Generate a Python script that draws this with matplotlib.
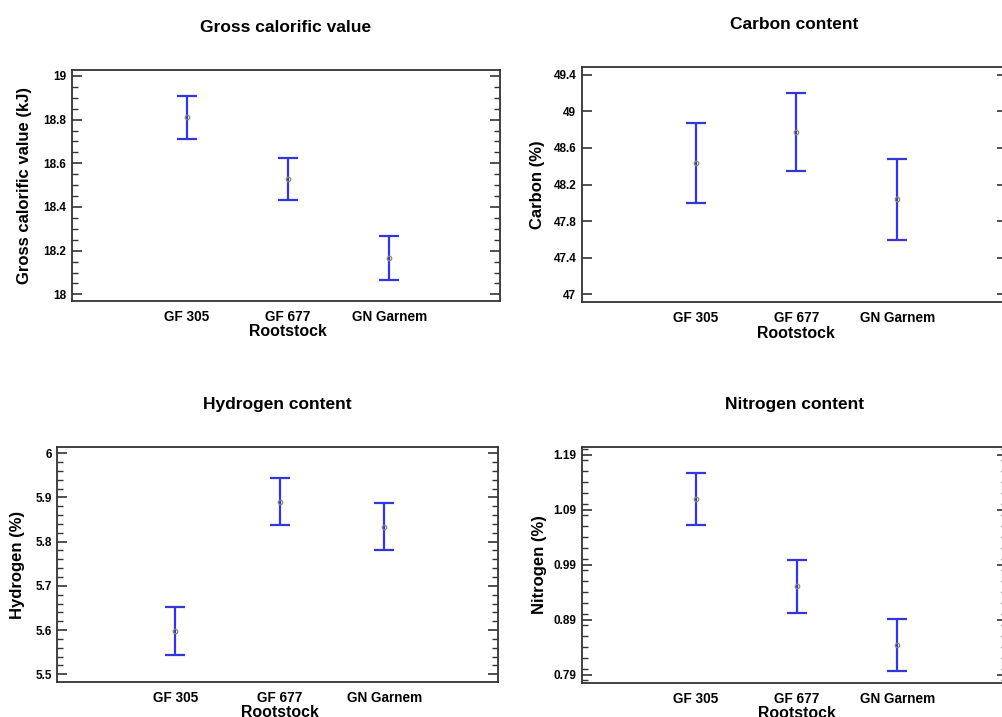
import matplotlib
matplotlib.use("Agg")
import matplotlib.pyplot as plt
from matplotlib.ticker import FixedLocator, MultipleLocator, FuncFormatter

plt.rcParams['font.family'] = ['Liberation Sans', 'DejaVu Sans']

# data (means and interval half-widths)
rootstocks = ['GF 305', 'GF 677', 'GN Garnem']
positions = [1, 2, 3]

gcv_mean = [18.81, 18.527, 18.166]
gcv_err = [0.098, 0.096, 0.100]

carbon_mean = [48.435, 48.774, 48.038]
carbon_err = [0.44, 0.43, 0.44]

hydrogen_mean = [5.598, 5.890, 5.834]
hydrogen_err = [0.054, 0.053, 0.054]

nitrogen_mean = [1.109, 0.951, 0.844]
nitrogen_err = [0.047, 0.048, 0.048]

W, H = 1003, 717
fig = plt.figure(figsize=(W / 100, H / 100), dpi=100)

# axes boxes in pixels: left, top, right, bottom
boxes = [
    (72, 70, 500, 300.7),
    (581.7, 67.3, 1007, 302.3),
    (57.3, 447.3, 498, 681.7),
    (582.3, 447.3, 1007, 682.7),
]

panels = [
    dict(title="Gross calorific value", ylabel="Gross calorific value (kJ)",
         mean=gcv_mean, err=gcv_err, ylim=(17.971, 19.027),
         major=[18, 18.2, 18.4, 18.6, 18.8, 19], minor=0.05, ylab_off=47),
    dict(title="Carbon content", ylabel="Carbon (%)",
         mean=carbon_mean, err=carbon_err, ylim=(46.913, 49.481),
         major=[47, 47.4, 47.8, 48.2, 48.6, 49, 49.4], minor=None, ylab_off=44),
    dict(title="Hydrogen content", ylabel="Hydrogen (%)",
         mean=hydrogen_mean, err=hydrogen_err, ylim=(5.483, 6.0136),
         major=[5.5, 5.6, 5.7, 5.8, 5.9, 6.0], minor=0.02, ylab_off=40),
    dict(title="Nitrogen content", ylabel="Nitrogen (%)",
         mean=nitrogen_mean, err=nitrogen_err, ylim=(0.7755, 1.2035),
         major=[0.79, 0.89, 0.99, 1.09, 1.19], minor=0.02, ylab_off=43),
]

xlim = (-0.13, 4.09)

for (l, t, r, b), p in zip(boxes, panels):
    ax = fig.add_axes([l / W, 1 - b / H, (r - l) / W, (b - t) / H])
    wpx, hpx = r - l, b - t

    ax.errorbar(positions, p["mean"], yerr=p["err"], fmt='none',
                ecolor='#3535dc', elinewidth=1.6, capsize=7.2, capthick=1.6)
    ax.plot(positions, p["mean"], 'o', ms=3.2, mfc='none', mec='#8c8a6c', mew=0.9)

    ax.set_xlim(*xlim)
    ax.set_ylim(*p["ylim"])
    ax.set_xticks(positions)
    ax.set_xticklabels(rootstocks, fontsize=9.8, fontweight='bold')
    ax.yaxis.set_major_locator(FixedLocator(p["major"]))
    ax.yaxis.set_major_formatter(FuncFormatter(lambda v, pos: '%g' % round(v, 3)))
    if p["minor"]:
        ax.yaxis.set_minor_locator(MultipleLocator(p["minor"]))
    for lab in ax.get_yticklabels():
        lab.set_fontweight('bold')
        lab.set_fontsize(8.5)

    ax.tick_params(axis='y', which='both', direction='in', left=True, right=True, pad=4)
    ax.tick_params(axis='y', which='major', length=7, width=1.2, color='#333333')
    ax.tick_params(axis='y', which='minor', length=4, width=1.0, color='#333333')
    ax.tick_params(axis='x', length=0, pad=6.5)

    for s in ax.spines.values():
        s.set_color('#333333')
        s.set_linewidth(1.3)

    # axis title sits under the middle category
    ax.set_xlabel("Rootstock", fontsize=11.4, fontweight='bold', va='center')
    ax.xaxis.set_label_coords((2 - xlim[0]) / (xlim[1] - xlim[0]), -31 / hpx)
    ax.set_ylabel(p["ylabel"], fontsize=12, fontweight='bold', va='center')
    ax.yaxis.set_label_coords(-p["ylab_off"] / wpx, 0.5)

    ax.text(0.5, 1 + 43 / hpx, p["title"], transform=ax.transAxes,
            ha='center', va='center', fontsize=12.5, fontweight='bold')

fig.savefig("out.png", dpi=100)
